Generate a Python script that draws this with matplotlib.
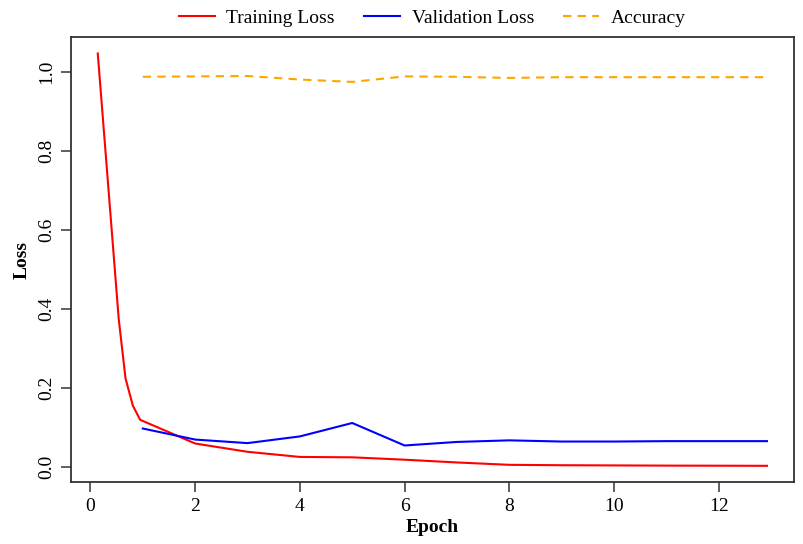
import matplotlib.pyplot as plt

plt.rcParams['font.family'] = ['Liberation Serif', 'DejaVu Serif']

# training loss (logged at fractional epochs)
train_epoch = [0.14, 0.54, 0.67, 0.81, 0.95, 2, 3, 4, 5, 6, 7, 8, 9, 10, 11, 12, 12.92]
train_loss = [1.047, 0.375, 0.224, 0.155, 0.119, 0.059, 0.038, 0.025, 0.024, 0.018,
              0.011, 0.005, 0.004, 0.0035, 0.003, 0.0028, 0.0025]

val_epoch = [1, 2, 3, 4, 5, 6, 7, 8, 9, 10, 11, 12, 12.92]
val_loss = [0.097, 0.069, 0.060, 0.077, 0.111, 0.054, 0.063, 0.067, 0.064, 0.064,
            0.065, 0.065, 0.065]
accuracy = [0.988, 0.989, 0.990, 0.981, 0.975, 0.989, 0.988, 0.985, 0.987, 0.987,
            0.987, 0.987, 0.987]

fig = plt.figure(figsize=(8.04, 5.44), dpi=100)
ax = fig.add_axes([0.0883, 0.1134, 0.8989, 0.8186])

ax.plot(train_epoch, train_loss, color='#FF0000', lw=1.5, label='Training Loss')
ax.plot(val_epoch, val_loss, color='#0000FF', lw=1.5, label='Validation Loss')
ax.plot(val_epoch, accuracy, color='#FFA500', lw=1.5, ls=(0, (4, 3)), label='Accuracy')

# R-style 4% padding
xmin, xmax = min(train_epoch), max(train_epoch)
ymin, ymax = min(train_loss), max(train_loss)
ax.set_xlim(xmin - 0.04 * (xmax - xmin), xmax + 0.04 * (xmax - xmin))
ax.set_ylim(ymin - 0.04 * (ymax - ymin), ymax + 0.04 * (ymax - ymin))

ax.set_xticks([0, 2, 4, 6, 8, 10, 12])
ax.set_yticks([0.0, 0.2, 0.4, 0.6, 0.8, 1.0])
ax.set_yticklabels(['0.0', '0.2', '0.4', '0.6', '0.8', '1.0'], rotation=90, va='center')
ax.tick_params(direction='out', length=7, width=1.2, color='#444444', labelsize=14, pad=4)

for s in ax.spines.values():
    s.set_color('#333333')
    s.set_linewidth(1.3)

ax.set_xlabel('Epoch', fontsize=14, fontweight='bold', labelpad=3)
ax.set_ylabel('Loss', fontsize=14, fontweight='bold', labelpad=6)

ax.legend(loc='lower center', bbox_to_anchor=(0.5, 1.0), ncol=3, frameon=False,
          fontsize=14, handlelength=1.85, handletextpad=0.6, columnspacing=1.5,
          borderaxespad=0.1)

fig.savefig('out.png', dpi=100)
